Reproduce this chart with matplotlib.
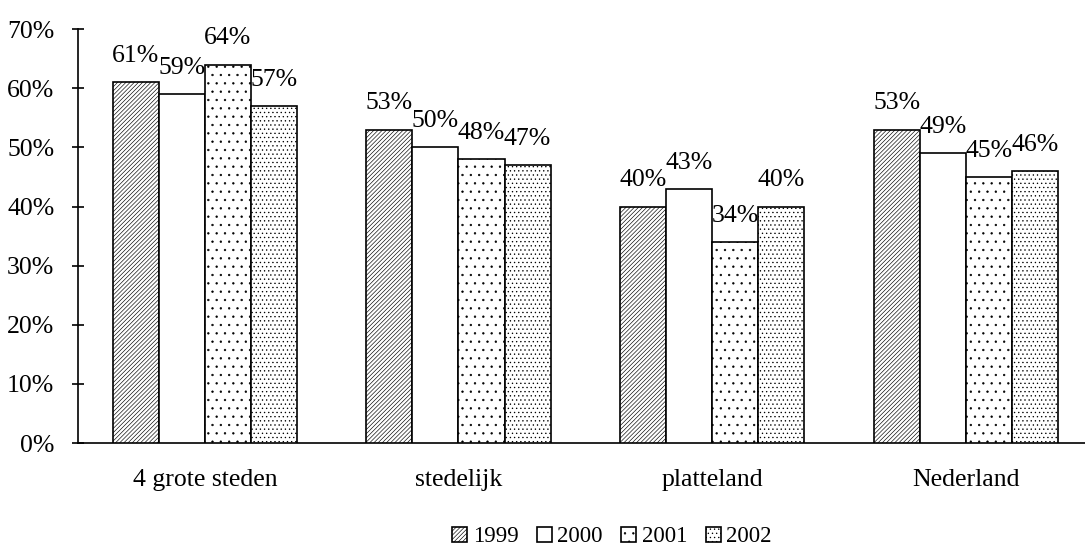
import matplotlib
matplotlib.use("Agg")
import matplotlib.pyplot as plt
import numpy as np

plt.rcParams['font.family'] = ['Liberation Serif', 'DejaVu Serif']
plt.rcParams['hatch.linewidth'] = 0.45
plt.rcParams['hatch.color'] = '#333333'

regions = ['4 grote steden', 'stedelijk', 'platteland', 'Nederland']
years = ['1999', '2000', '2001', '2002']
share_1999 = [61, 53, 40, 53]
share_2000 = [59, 50, 43, 49]
share_2001 = [64, 48, 34, 45]
share_2002 = [57, 47, 40, 46]
series = [share_1999, share_2000, share_2001, share_2002]
hatches = ['////////', '', '..', '....']

fig = plt.figure(figsize=(10.85, 5.49), dpi=100)
ax = fig.add_axes([0.0719, 0.193, 0.9281, 0.754])

x = np.arange(len(regions))
w = 0.1815
for i, (vals, yr) in enumerate(zip(series, years)):
    pos = x + (i - 1.5) * w
    vals = np.array(vals) / 100
    ax.bar(pos, vals, w, color='white', edgecolor='black', linewidth=1.2,
           hatch=hatches[i], label=yr, zorder=3)
    for px, v in zip(pos, vals):
        ax.annotate(f'{v:.0%}', (px, v), xytext=(0, 14.5), textcoords='offset points',
                    ha='center', va='baseline', fontsize=18.5, zorder=1)

ax.set_xlim(-0.5, 3.47)
ax.set_ylim(0, 0.7)
ax.set_yticks(np.arange(0, 0.71, 0.1))
ax.set_yticklabels([f'{t}%' for t in range(0, 71, 10)])
ax.set_xticks(x)
ax.set_xticklabels(regions)
ax.tick_params(axis='y', direction='inout', length=8, width=1.2, pad=13, labelsize=18.5)
ax.tick_params(axis='x', length=0, pad=19, labelsize=18.5)
for s in ['top', 'right']:
    ax.spines[s].set_visible(False)
ax.spines['left'].set_linewidth(1.2)
ax.spines['bottom'].set_linewidth(1.2)

fig.legend(loc='center', bbox_to_anchor=(0.564, 0.022), ncol=4, frameon=False,
           fontsize=16.5, handlelength=0.65, handleheight=0.65, handletextpad=0.25,
           columnspacing=0.8)

fig.savefig('out.png', dpi=100)
